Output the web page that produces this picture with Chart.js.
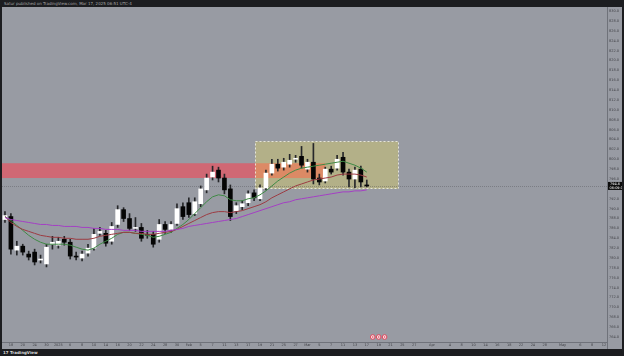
<!DOCTYPE html>
<html>
<head>
<meta charset="utf-8">
<script src="https://cdn.jsdelivr.net/npm/chart.js@4.4.1/dist/chart.umd.min.js"></script>
<style>
  body { margin: 0; width: 624px; height: 356px; overflow: hidden; position: relative; background: #1c1d20; }
  #hdr { position: absolute; left: 4px; top: 1px; font: 4px 'DejaVu Sans', sans-serif; color: #a5a5a5; white-space: nowrap; }
  #ftr { position: absolute; left: 3px; top: 350px; font: bold 4px 'DejaVu Sans', sans-serif; color: #d8d8d8; white-space: nowrap; }
  #c { position: absolute; left: 2px; top: 7px; background: #989ba3; }
</style>
</head>
<body>
<div id="hdr">Satur published on TradingView.com, Mar 17, 2025 06:51 UTC-4</div>
<canvas id="c" width="620" height="342"></canvas>
<div id="ftr">17 TradingView</div>
<script>
/////////////////////////////
// Data (daily candles, Dec 17 2024 -> Mar 17 2025)
/////////////////////////////

const opens  = [787.8, 788.4, 781.6, 782.4, 780.8, 781.2, 779.6, 778.8, 782.8, 782.6,
                783.8, 783.2, 780.4, 780.0, 781.0, 782.0, 785.0, 785.0, 783.4, 786.8,
                789.8, 788.0, 786.0, 786.2, 784.8, 784.8, 783.8, 786.8, 785.8, 787.0,
                790.4, 791.2, 789.0, 791.0, 793.8, 796.4, 797.8, 796.2, 794.0, 789.6,
                790.4, 791.2, 793.2, 792.0, 794.2, 797.2, 799.0, 798.4, 799.0, 800.0,
                800.6, 798.0, 799.4, 796.2, 795.6, 798.0, 798.2, 800.4, 797.4, 796.0,
                798.0, 794.8];
const highs  = [789.4, 789.0, 783.4, 782.8, 781.4, 781.8, 780.6, 782.8, 784.4, 784.2,
                784.4, 783.8, 781.2, 781.4, 782.8, 786.0, 786.2, 785.6, 787.2, 790.6,
                790.2, 789.0, 788.2, 787.0, 785.6, 785.4, 787.8, 787.4, 787.4, 791.0,
                791.2, 792.2, 792.2, 794.6, 797.0, 798.6, 798.4, 797.0, 794.8, 791.2,
                791.6, 793.6, 793.8, 794.8, 797.8, 800.0, 800.0, 800.2, 801.0, 800.8,
                802.6, 800.0, 803.2, 797.0, 798.4, 798.6, 800.8, 801.4, 798.0, 798.4,
                798.6, 795.8];
const lows   = [787.2, 780.8, 780.6, 780.6, 779.6, 778.6, 779.0, 778.2, 781.8, 782.0,
                782.6, 779.8, 779.6, 779.4, 780.4, 781.6, 784.6, 782.4, 782.8, 786.2,
                787.4, 785.6, 785.4, 783.4, 784.0, 782.2, 783.2, 785.0, 785.2, 786.6,
                787.8, 788.2, 788.6, 790.4, 793.2, 795.8, 795.4, 793.0, 787.6, 789.0,
                789.8, 790.6, 791.6, 791.6, 793.8, 796.8, 797.6, 797.8, 798.4, 799.4,
                798.2, 797.4, 795.0, 794.8, 795.2, 797.0, 797.8, 796.8, 794.4, 794.2,
                794.4, 794.4];
const closes = [788.6, 781.8, 782.4, 781.2, 780.2, 779.2, 779.8, 782.2, 783.2, 783.4,
                783.2, 780.4, 780.2, 780.8, 782.0, 784.8, 785.4, 783.0, 786.4, 789.8,
                788.0, 786.0, 786.2, 784.0, 784.6, 782.8, 786.8, 785.8, 786.8, 790.0,
                788.4, 788.8, 791.4, 794.0, 796.2, 797.4, 796.2, 793.8, 788.4, 790.6,
                791.0, 793.0, 792.2, 794.2, 797.2, 799.0, 798.2, 799.4, 799.8, 800.2,
                798.8, 799.4, 796.0, 795.4, 798.0, 797.4, 800.0, 797.4, 796.0, 797.8,
                795.4, 794.6];

// moving averages
const maFast = [788.4, 787.6, 786.6, 785.6, 784.6, 783.8, 783.2, 782.8, 782.8, 782.8,
                782.8, 782.6, 782.2, 781.8, 781.6, 782.0, 782.8, 783.4, 784.0, 784.8,
                785.2, 785.2, 785.0, 784.8, 784.6, 784.2, 784.4, 784.8, 785.2, 786.0,
                786.8, 787.8, 789.0, 790.2, 791.4, 792.4, 792.8, 792.6, 791.8, 791.6,
                791.6, 792.0, 792.2, 792.8, 793.6, 794.6, 795.6, 796.4, 797.2, 797.8,
                798.2, 798.4, 798.6, 798.8, 799.0, 799.2, 799.4, 799.6, 799.2, 798.8,
                798.2, 797.4];
const maMid  = [788.4, 787.2, 786.4, 785.8, 785.4, 785.0, 784.6, 784.4, 784.2, 784.2,
                784.0, 784.0, 783.8, 783.8, 783.8, 784.0, 784.4, 784.6, 784.8, 785.0,
                785.2, 785.2, 785.0, 785.0, 784.8, 784.8, 785.0, 785.2, 785.4, 785.8,
                786.4, 787.0, 787.6, 788.2, 788.8, 789.2, 789.4, 789.4, 789.2, 789.4,
                789.6, 790.0, 790.4, 790.8, 791.4, 792.2, 792.8, 793.4, 794.0, 794.6,
                795.0, 795.4, 795.8, 796.0, 796.2, 796.4, 796.8, 797.0, 797.0, 797.0,
                796.8, 796.4];
const maSlow = [788.2, 787.8, 787.6, 787.4, 787.2, 787.0, 786.8, 786.8, 786.6, 786.6,
                786.4, 786.4, 786.4, 786.2, 786.2, 786.0, 786.0, 785.8, 785.8, 785.8,
                785.6, 785.6, 785.6, 785.4, 785.4, 785.4, 785.4, 785.4, 785.6, 785.8,
                786.0, 786.4, 786.6, 786.8, 787.0, 787.2, 787.4, 787.6, 787.8, 788.0,
                788.4, 788.8, 789.2, 789.6, 790.0, 790.4, 790.8, 791.2, 791.4, 791.8,
                792.0, 792.2, 792.4, 792.6, 792.8, 793.0, 793.2, 793.4, 793.4, 793.6,
                793.6, 793.8];

// drawings: resistance zone, consolidation box, event markers (bar index / price)
const zonePrice = [796.2, 799.2];
const zoneBars  = [-1, 54];
const boxPrice  = [794.0, 803.6];
const boxBars   = [42.2, 66.3];
const eventBars = [62, 63, 64];

const yRange = [763, 830];
const slots = 102;

/////////////////////////////
// Categories (weekdays) and time axis labels
/////////////////////////////

const holidays = ['2024-12-25', '2024-12-26', '2025-01-01'];
const monthNames = ['Jan','Feb','Mar','Apr','May','Jun','Jul','Aug','Sep','Oct','Nov','Dec'];
const dates = [];
let d = new Date(2024, 11, 17);
while (dates.length < slots) {
  const key = d.getFullYear() + '-' + String(d.getMonth() + 1).padStart(2, '0') + '-' + String(d.getDate()).padStart(2, '0');
  if (d.getDay() !== 0 && d.getDay() !== 6 && !holidays.includes(key)) dates.push(new Date(d));
  d.setDate(d.getDate() + 1);
}
const isMonthStart = i => i > 0 && dates[i].getMonth() !== dates[i - 1].getMonth();
const categories = dates.map(x => x.toDateString());
const tickText = dates.map((x, i) => {
  if (isMonthStart(i)) return x.getMonth() === 0 ? String(x.getFullYear()) : monthNames[x.getMonth()];
  if (i % 2 === 1 && !(i + 1 < slots && isMonthStart(i + 1)) && !isMonthStart(i - 1 >= 0 ? i - 1 : 0)) return String(x.getDate());
  return '';
});

/////////////////////////////
// Plugins
/////////////////////////////

const drawings = {
  id: 'drawings',
  beforeDatasetsDraw(chart) {
    const { ctx, chartArea: a, scales: { x, y } } = chart;
    ctx.save();
    ctx.beginPath(); ctx.rect(a.left, a.top, a.width, a.height); ctx.clip();

    // red zone
    const zl = Math.max(a.left, x.getPixelForValue(zoneBars[0]));
    const zr = x.getPixelForValue(zoneBars[1]);
    ctx.fillStyle = 'rgba(245, 70, 85, 0.6)';
    ctx.fillRect(zl, y.getPixelForValue(zonePrice[1]), zr - zl, y.getPixelForValue(zonePrice[0]) - y.getPixelForValue(zonePrice[1]));

    // box
    const bl = x.getPixelForValue(boxBars[0]), br = x.getPixelForValue(boxBars[1]);
    const bt = y.getPixelForValue(boxPrice[1]), bb = y.getPixelForValue(boxPrice[0]);
    ctx.fillStyle = 'rgba(255, 235, 59, 0.26)';
    ctx.fillRect(bl, bt, br - bl, bb - bt);
    ctx.strokeStyle = 'rgba(240, 240, 230, 0.85)';
    ctx.lineWidth = 1;
    ctx.setLineDash([2, 2]);
    ctx.strokeRect(Math.round(bl) + 0.5, Math.round(bt) + 0.5, Math.round(br - bl), Math.round(bb - bt));

    // last price line
    const py = Math.round(y.getPixelForValue(closes[closes.length - 1])) + 0.5;
    ctx.strokeStyle = 'rgba(70, 70, 75, 0.35)';
    ctx.setLineDash([1, 1]);
    ctx.beginPath(); ctx.moveTo(a.left, py); ctx.lineTo(a.right, py); ctx.stroke();
    ctx.restore();
  },
  afterDraw(chart) {
    const { ctx, chartArea: a, scales: { x, y } } = chart;
    ctx.save();
    // axis borders
    ctx.strokeStyle = '#6f727a';
    ctx.lineWidth = 1;
    ctx.beginPath();
    ctx.moveTo(Math.round(a.right) + 0.5, 0); ctx.lineTo(Math.round(a.right) + 0.5, chart.height);
    ctx.moveTo(0, Math.round(a.bottom) + 0.5); ctx.lineTo(Math.round(a.right) + 1, Math.round(a.bottom) + 0.5);
    ctx.stroke();

    // event markers
    eventBars.forEach(b => {
      const cx = x.getPixelForValue(b), cy = a.bottom - 5;
      ctx.beginPath(); ctx.arc(cx, cy, 2.3, 0, Math.PI * 2);
      ctx.fillStyle = '#f6e4e6'; ctx.fill();
      ctx.strokeStyle = '#e0465c'; ctx.lineWidth = 1; ctx.stroke();
      ctx.beginPath(); ctx.arc(cx, cy, 0.8, 0, Math.PI * 2);
      ctx.fillStyle = '#e0465c'; ctx.fill();
    });

    // last price label
    const last = closes[closes.length - 1];
    const py = y.getPixelForValue(last);
    ctx.fillStyle = '#0c0c0c';
    ctx.fillRect(a.right + 1, py - 4, chart.width - a.right - 1, 8);
    ctx.fillStyle = '#ffffff';
    ctx.font = '3.5px "DejaVu Sans"';
    ctx.textBaseline = 'middle';
    ctx.fillText(last.toFixed(1), a.right + 3, py - 1.5);
    ctx.fillText('06:09:14', a.right + 2.5, py + 2);
    ctx.restore();
  }
};

/////////////////////////////
// Chart
/////////////////////////////

const bodyColors = closes.map((c, i) => c >= opens[i] ? '#ffffff' : '#050505');
const ctx = document.getElementById('c').getContext('2d');
const chart = new Chart(ctx, {
  type: 'bar',
  data: {
    labels: categories,
    datasets: [
      { type: 'line', data: maSlow, borderColor: '#a43fc4', borderWidth: 1, pointRadius: 0, order: 0 },
      { type: 'line', data: maMid, borderColor: '#9c3b42', borderWidth: 1, pointRadius: 0, order: 0 },
      { type: 'line', data: maFast, borderColor: '#3f8a45', borderWidth: 1, pointRadius: 0, order: 0 },
      { data: opens.map((o, i) => [o, closes[i]]), backgroundColor: bodyColors, borderWidth: 0,
        barThickness: 4, grouped: false, order: 1 },
      { data: lows.map((l, i) => [l, highs[i]]), backgroundColor: '#26272a', borderWidth: 0,
        barThickness: 1, grouped: false, order: 2 }
    ]
  },
  options: {
    responsive: false,
    animation: false,
    layout: { padding: 0 },
    plugins: { legend: { display: false }, tooltip: { enabled: false } },
    scales: {
      x: {
        type: 'category',
        offset: true,
        grid: { display: false, drawTicks: false },
        border: { display: false },
        afterFit: s => { s.height = 7; },
        ticks: {
          autoSkip: false, maxRotation: 0, minRotation: 0, padding: 1,
          color: '#3e3f44', font: { size: 3.5, family: 'DejaVu Sans' },
          callback: (v, i) => tickText[i]
        }
      },
      y: {
        position: 'right',
        min: yRange[0], max: yRange[1],
        grid: { display: false, drawTicks: false },
        border: { display: false },
        afterFit: s => { s.width = 15; },
        ticks: {
          stepSize: 2, includeBounds: false, padding: 2,
          color: '#3e3f44', font: { size: 3.5, family: 'DejaVu Sans' },
          callback: v => v.toFixed(1)
        }
      }
    }
  },
  plugins: [drawings]
});
</script>
</body>
</html>
